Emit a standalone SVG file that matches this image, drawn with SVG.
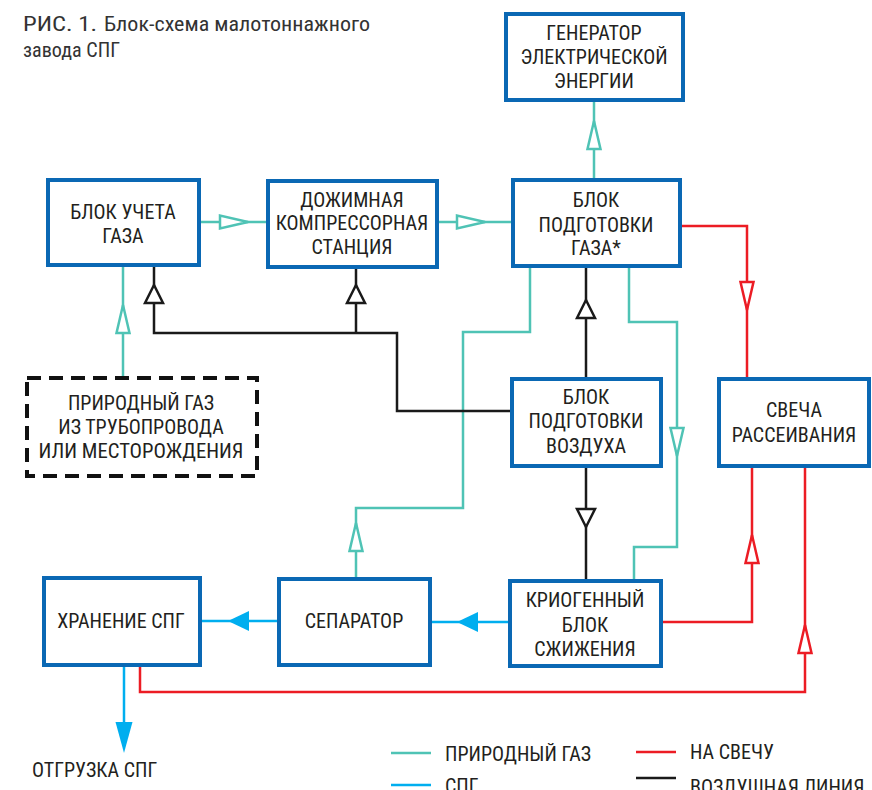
<svg xmlns="http://www.w3.org/2000/svg" xmlns:xlink="http://www.w3.org/1999/xlink" width="872" height="790" viewBox="0 0 872 790">
<style>
text{font-family:"Liberation Sans Narrow","Roboto Condensed","Liberation Sans",sans-serif;fill:#231f20;font-size:20px}
.c{text-anchor:middle}
.box{fill:#fff;stroke:#0a68b4;stroke-width:4}
.dash{fill:#fff;stroke:#111;stroke-width:4;stroke-dasharray:14 8}
.ln{fill:none;stroke-width:2.5;stroke-linejoin:miter}
.gas{stroke:#4fc3b5}
.air{stroke:#1a1a1a}
.red{stroke:#ec1c24}
.lng{stroke:#00aeef}
.oa{fill:#fff;stroke-width:2.5}
.fa{fill:#00aeef;stroke:none}
.t{fill:#333}
</style>
<defs>
<path id="ah" d="M0,0 L-28,-6.5 L-28,6.5 Z"/>
<path id="ahb" d="M0,0 L-18,-9 L-18,9 Z"/>
<path id="ahf" d="M0,0 L-21,-10 L-21,10 Z"/>
<path id="ahf2" d="M0,0 L-31,-8.5 L-31,8.5 Z"/>
</defs>
<g id="title">
<text class="t" x="23" y="31" font-size="24" textLength="74" lengthAdjust="spacingAndGlyphs">РИС. 1.</text>
<text class="t" x="104" y="31" font-size="20" textLength="266" lengthAdjust="spacingAndGlyphs">Блок-схема малотоннажного</text>
<text class="t" x="23" y="57" font-size="20" textLength="97" lengthAdjust="spacingAndGlyphs">завода СПГ</text>
</g>
<g id="connectors">
<g class="ln gas">
<path d="M201,222 H267"/>
<path d="M437,222 H512"/>
<path d="M594,179 V100"/>
<path d="M123,377 V265"/>
<path d="M530,267 V332 H463 V508 H356 V578"/>
<path d="M629,267 V322 H677 V547 H634 V581"/>
</g>
<g class="oa gas">
<use xlink:href="#ah" transform="translate(248,222)"/>
<use xlink:href="#ah" transform="translate(485,222)"/>
<use xlink:href="#ah" transform="translate(594,121) rotate(-90)"/>
<use xlink:href="#ah" transform="translate(123,305) rotate(-90)"/>
<use xlink:href="#ah" transform="translate(356,523) rotate(-90)"/>
<use xlink:href="#ah" transform="translate(677,456) rotate(90)"/>
</g>
<g class="ln air">
<path d="M586,378 V267"/>
<path d="M586,466 V581"/>
<path d="M511,411 H397 V333 H154 V264"/>
<path d="M356,333 V268"/>
</g>
<g class="oa air">
<use xlink:href="#ahb" transform="translate(586,300) rotate(-90)"/>
<use xlink:href="#ahb" transform="translate(586,527) rotate(90)"/>
<use xlink:href="#ahb" transform="translate(154,285) rotate(-90)"/>
<use xlink:href="#ahb" transform="translate(356,285) rotate(-90)"/>
</g>
<g class="ln red">
<path d="M680,226 H747 V378"/>
<path d="M661,622 H752 V467"/>
<path d="M140,666 V692 H805 V467"/>
</g>
<g class="oa red">
<use xlink:href="#ah" transform="translate(747,310) rotate(90)"/>
<use xlink:href="#ah" transform="translate(752,535) rotate(-90)"/>
<use xlink:href="#ah" transform="translate(805,625) rotate(-90)"/>
</g>
<g class="ln lng">
<path d="M509,622 H431"/>
<path d="M278,621 H200"/>
<path d="M124,666 V740"/>
</g>
<g class="fa">
<use xlink:href="#ahf" transform="translate(457,622) rotate(180)"/>
<use xlink:href="#ahf" transform="translate(228,621) rotate(180)"/>
<use xlink:href="#ahf2" transform="translate(124,753) rotate(90)"/>
</g>
</g>
<g id="generator">
<rect class="box" x="506" y="14" width="177" height="86"/>
<text class="c" x="594" y="40">ГЕНЕРАТОР</text>
<text class="c" x="594" y="64">ЭЛЕКТРИЧЕСКОЙ</text>
<text class="c" x="594" y="88">ЭНЕРГИИ</text>
</g>
<g id="gas-metering">
<rect class="box" x="48" y="180" width="151" height="85"/>
<text class="c" x="123" y="219">БЛОК УЧЕТА</text>
<text class="c" x="123" y="243">ГАЗА</text>
</g>
<g id="booster">
<rect class="box" x="268" y="181" width="169" height="86"/>
<text class="c" x="352" y="207">ДОЖИМНАЯ</text>
<text class="c" x="352" y="230">КОМПРЕССОРНАЯ</text>
<text class="c" x="352" y="254">СТАНЦИЯ</text>
</g>
<g id="gas-prep">
<rect class="box" x="513" y="180" width="167" height="86"/>
<text class="c" x="596" y="207">БЛОК</text>
<text class="c" x="596" y="232">ПОДГОТОВКИ</text>
<text class="c" x="596" y="255">ГАЗА*</text>
</g>
<g id="air-prep">
<rect class="box" x="512" y="379" width="149" height="87"/>
<text class="c" x="586" y="404">БЛОК</text>
<text class="c" x="586" y="428">ПОДГОТОВКИ</text>
<text class="c" x="586" y="453">ВОЗДУХА</text>
</g>
<g id="flare">
<rect class="box" x="719" y="379" width="150" height="87"/>
<text class="c" x="794" y="417">СВЕЧА</text>
<text class="c" x="794" y="442">РАССЕИВАНИЯ</text>
</g>
<g id="source">
<rect class="dash" x="27" y="378" width="230" height="98"/>
<text class="c" x="141" y="410">ПРИРОДНЫЙ ГАЗ</text>
<text class="c" x="141" y="434">ИЗ ТРУБОПРОВОДА</text>
<text class="c" x="141" y="458" textLength="205" lengthAdjust="spacingAndGlyphs">ИЛИ МЕСТОРОЖДЕНИЯ</text>
</g>
<g id="cryo">
<rect class="box" x="510" y="581" width="151" height="85"/>
<text class="c" x="585" y="607">КРИОГЕННЫЙ</text>
<text class="c" x="585" y="632">БЛОК</text>
<text class="c" x="585" y="656">СЖИЖЕНИЯ</text>
</g>
<g id="separator">
<rect class="box" x="279" y="579" width="151" height="86"/>
<text class="c" x="354" y="628">СЕПАРАТОР</text>
</g>
<g id="storage">
<rect class="box" x="44" y="578" width="156" height="87"/>
<text class="c" x="121" y="628">ХРАНЕНИЕ СПГ</text>
</g>
<g id="shipment">
<text x="32" y="777">ОТГРУЗКА СПГ</text>
</g>
<g id="legend">
<line class="ln gas" x1="391" y1="753" x2="431" y2="753"/>
<text x="445" y="761">ПРИРОДНЫЙ ГАЗ</text>
<line class="ln lng" x1="391" y1="785" x2="431" y2="785"/>
<text x="445" y="793">СПГ</text>
<line class="ln red" x1="636" y1="752" x2="676" y2="752"/>
<text x="690" y="759">НА СВЕЧУ</text>
<line class="ln air" x1="636" y1="778" x2="676" y2="778"/>
<text x="690" y="794">ВОЗДУШНАЯ ЛИНИЯ</text>
</g>
</svg>
